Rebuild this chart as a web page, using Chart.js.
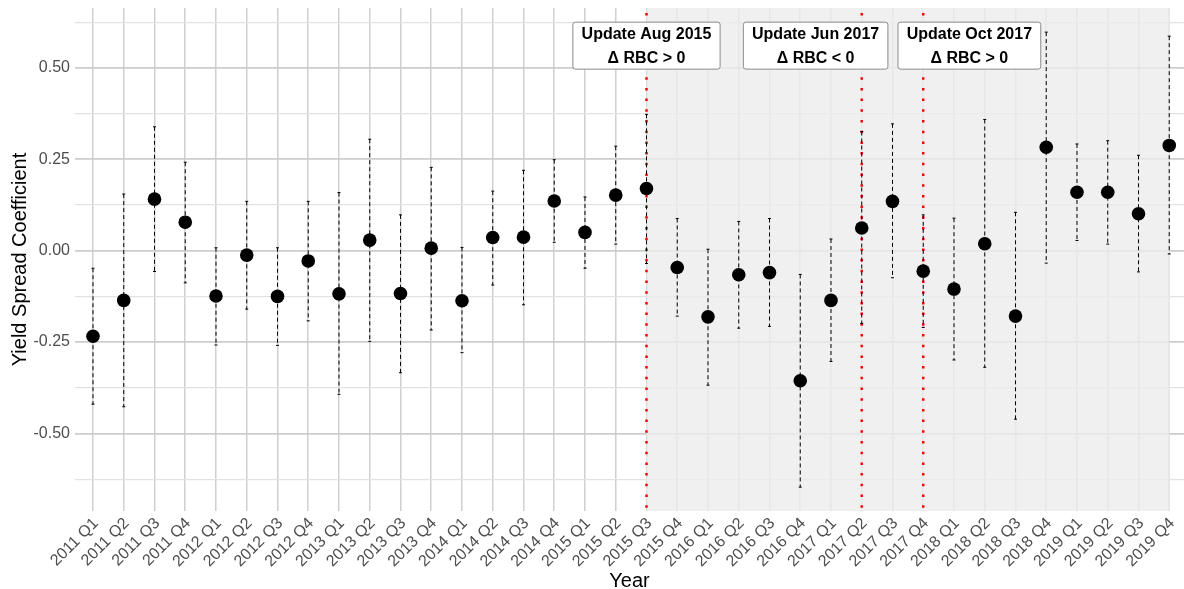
<!DOCTYPE html>
<html>
<head>
<meta charset="utf-8">
<script src="https://cdn.jsdelivr.net/npm/chart.js@4.4.0/dist/chart.umd.min.js"></script>
<style>
  html, body { margin: 0; padding: 0; background: #fff; }
  #wrap { width: 1184px; height: 589px; }
</style>
</head>
<body>
<div id="wrap"><canvas id="coef-chart" width="1184" height="589"></canvas></div>
<script>
var quarters = [
    '2011 Q1', '2011 Q2', '2011 Q3', '2011 Q4', '2012 Q1', '2012 Q2', '2012 Q3', '2012 Q4',
    '2013 Q1', '2013 Q2', '2013 Q3', '2013 Q4', '2014 Q1', '2014 Q2', '2014 Q3', '2014 Q4',
    '2015 Q1', '2015 Q2', '2015 Q3', '2015 Q4', '2016 Q1', '2016 Q2', '2016 Q3', '2016 Q4',
    '2017 Q1', '2017 Q2', '2017 Q3', '2017 Q4', '2018 Q1', '2018 Q2', '2018 Q3', '2018 Q4',
    '2019 Q1', '2019 Q2', '2019 Q3', '2019 Q4'
];
var coefficients = [
    -0.234, -0.136, 0.141, 0.078, -0.124, -0.012, -0.125, -0.028,
    -0.118, 0.029, -0.117, 0.007, -0.137, 0.036, 0.037, 0.136,
    0.050, 0.152, 0.170, -0.046, -0.181, -0.066, -0.060, -0.356,
    -0.136, 0.062, 0.135, -0.056, -0.105, 0.019, -0.179, 0.283,
    0.160, 0.160, 0.101, 0.288
];
var upperBounds = [
    -0.048, 0.155, 0.339, 0.242, 0.008, 0.135, 0.008, 0.135,
    0.159, 0.305, 0.098, 0.228, 0.009, 0.163, 0.220, 0.249,
    0.147, 0.286, 0.373, 0.088, 0.004, 0.080, 0.088, -0.065,
    0.032, 0.326, 0.347, 0.098, 0.089, 0.359, 0.105, 0.598,
    0.292, 0.301, 0.261, 0.587
];
var lowerBounds = [
    -0.420, -0.427, -0.057, -0.088, -0.258, -0.160, -0.259, -0.192,
    -0.393, -0.248, -0.334, -0.217, -0.279, -0.094, -0.148, 0.023,
    -0.048, 0.018, -0.035, -0.179, -0.368, -0.212, -0.207, -0.647,
    -0.303, -0.199, -0.074, -0.210, -0.299, -0.319, -0.461, -0.034,
    0.028, 0.018, -0.058, -0.009
];
var yTickValues = [-0.625, -0.5, -0.375, -0.25, -0.125, 0, 0.125, 0.25, 0.375, 0.5, 0.625];
var updateQuarters = ['2015 Q3', '2017 Q2', '2017 Q4'];
var shadeFrom = '2015 Q3';
var shadeTo = '2019 Q4';
var noteLines = [
    ['Update Aug 2015', '\u0394 RBC > 0'],
    ['Update Jun 2017', '\u0394 RBC < 0'],
    ['Update Oct 2017', '\u0394 RBC > 0']
];
var noteX = [18, 23.5, 28.5];
var noteY = 0.561;

function isMajor(v) {
    return Math.abs(v / 0.25 - Math.round(v / 0.25)) < 1e-9;
}

var overlayPlugin = {
    id: 'overlay',
    beforeDatasetsDraw: function (chart) {
        var ctx = chart.ctx;
        var xs = chart.scales.x;
        var ys = chart.scales.y;
        var area = chart.chartArea;
        ctx.save();

        // shaded period after the first update
        var x0 = xs.getPixelForValue(quarters.indexOf(shadeFrom));
        var x1 = xs.getPixelForValue(quarters.indexOf(shadeTo));
        ctx.fillStyle = 'rgba(236, 236, 236, 0.8)';
        ctx.fillRect(x0, area.top, x1 - x0, area.bottom - area.top);

        // red dotted update lines
        ctx.strokeStyle = '#ff0000';
        ctx.lineWidth = 2.5;
        ctx.setLineDash([2.5, 8.2]);
        updateQuarters.forEach(function (q) {
            var px = xs.getPixelForValue(quarters.indexOf(q));
            ctx.beginPath();
            ctx.moveTo(px, area.top + 5);
            ctx.lineTo(px, area.bottom);
            ctx.stroke();
        });

        // dashed error bars
        ctx.strokeStyle = '#000';
        ctx.lineWidth = 1;
        for (var i = 0; i < quarters.length; i++) {
            var px = xs.getPixelForValue(i);
            var top = ys.getPixelForValue(upperBounds[i]);
            var bot = ys.getPixelForValue(lowerBounds[i]);
            ctx.setLineDash([4, 3]);
            ctx.beginPath();
            ctx.moveTo(px, top);
            ctx.lineTo(px, bot);
            ctx.stroke();
            ctx.setLineDash([]);
            ctx.beginPath();
            ctx.moveTo(px - 1.5, top);
            ctx.lineTo(px + 1.5, top);
            ctx.moveTo(px - 1.5, bot);
            ctx.lineTo(px + 1.5, bot);
            ctx.stroke();
        }
        ctx.restore();
    },
    afterDatasetsDraw: function (chart) {
        var ctx = chart.ctx;
        var xs = chart.scales.x;
        var ys = chart.scales.y;
        ctx.save();
        ctx.font = 'bold 16px "Liberation Sans", Arial, sans-serif';
        ctx.textAlign = 'center';
        ctx.textBaseline = 'middle';
        noteLines.forEach(function (lines, k) {
            var cx = xs.getPixelForValue(noteX[k]);
            var cy = ys.getPixelForValue(noteY);
            var w = Math.max.apply(null, lines.map(function (t) { return ctx.measureText(t).width; })) + 17.4;
            var h = 47;
            ctx.beginPath();
            if (ctx.roundRect) {
                ctx.roundRect(cx - w / 2, cy - h / 2, w, h, 2.5);
            } else {
                ctx.rect(cx - w / 2, cy - h / 2, w, h);
            }
            ctx.fillStyle = '#fff';
            ctx.fill();
            ctx.strokeStyle = '#8a8a8a';
            ctx.lineWidth = 1;
            ctx.stroke();
            ctx.fillStyle = '#000';
            ctx.fillText(lines[0], cx, cy - 11.5);
            ctx.fillText(lines[1], cx, cy + 12.5);
        });
        ctx.restore();
    }
};

var chart = new Chart(document.getElementById('coef-chart'), {
    type: 'scatter',
    data: {
        datasets: [{
            label: 'Yield Spread Coefficient',
            data: coefficients.map(function (v, i) { return { x: i, y: v }; }),
            backgroundColor: '#000',
            borderWidth: 0,
            pointRadius: 6.8,
            pointHoverRadius: 6.8
        }]
    },
    options: {
        responsive: false,
        animation: false,
        devicePixelRatio: 1,
        layout: { autoPadding: false, padding: { top: 8, left: 0, right: 0, bottom: 0 } },
        plugins: {
            legend: { display: false },
            tooltip: { enabled: false }
        },
        scales: {
            x: {
                type: 'linear',
                min: -0.585,
                max: 35.48,
                afterBuildTicks: function (scale) {
                    scale.ticks = quarters.map(function (q, i) { return { value: i }; });
                },
                afterFit: function (scale) {
                    scale.height = 78;
                    scale.paddingLeft = 0;
                    scale.paddingRight = 0;
                },
                grid: { color: '#d0d0d0', lineWidth: 1.5, drawTicks: false },
                border: { display: false },
                ticks: {
                    autoSkip: false,
                    maxRotation: 45,
                    minRotation: 45,
                    padding: 3,
                    labelOffset: 3,
                    color: '#4d4d4d',
                    font: { family: '"Liberation Sans", Arial, sans-serif', size: 16 },
                    callback: function (value) { return quarters[value]; }
                },
                title: {
                    display: true,
                    text: 'Year',
                    color: '#000',
                    font: { family: '"Liberation Sans", Arial, sans-serif', size: 20, lineHeight: 1 },
                    padding: { top: 0, bottom: -2.5 }
                }
            },
            y: {
                min: -0.7122,
                max: 0.664,
                afterBuildTicks: function (scale) {
                    scale.ticks = yTickValues.map(function (v) { return { value: v }; });
                },
                afterFit: function (scale) {
                    scale.width = 75;
                    scale.paddingTop = 0;
                    scale.paddingBottom = 0;
                },
                grid: {
                    drawTicks: false,
                    color: function (c) { return isMajor(c.tick.value) ? '#cdcdcd' : '#e2e2e2'; },
                    lineWidth: function (c) { return isMajor(c.tick.value) ? 1.8 : 1.2; }
                },
                border: { display: false },
                ticks: {
                    padding: 5,
                    color: '#4d4d4d',
                    font: { family: '"Liberation Sans", Arial, sans-serif', size: 16 },
                    callback: function (value) { return isMajor(value) ? value.toFixed(2) : ''; }
                },
                title: {
                    display: true,
                    text: 'Yield Spread Coefficient',
                    color: '#000',
                    font: { family: '"Liberation Sans", Arial, sans-serif', size: 20, lineHeight: 1.2 },
                    padding: { top: 8, bottom: 0 }
                }
            }
        }
    },
    plugins: [overlayPlugin]
});
</script>
</body>
</html>
